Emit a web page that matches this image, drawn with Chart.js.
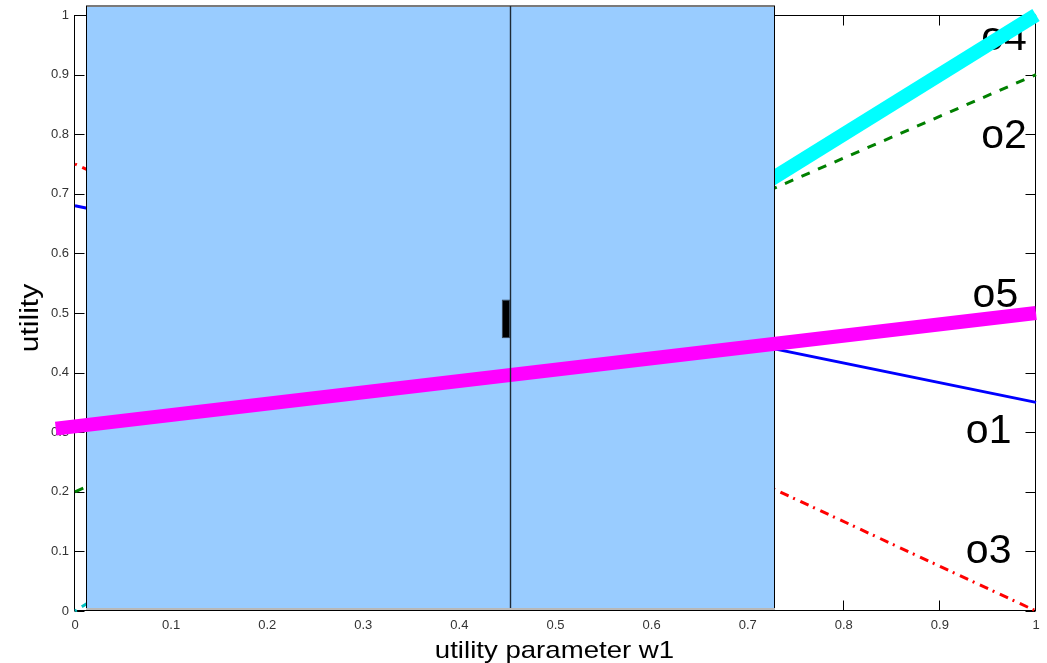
<!DOCTYPE html>
<html><head><meta charset="utf-8">
<script src="https://cdn.jsdelivr.net/npm/chart.js@4/dist/chart.umd.min.js"></script>
<style>html,body{margin:0;padding:0;background:#fff;} canvas{display:block;}</style>
</head><body>
<canvas id="c" width="1047" height="663"></canvas>
<script>
// ---- data ----
const w1Range = [0, 1];
const o1Utility = [0.68, 0.35];
const o2Utility = [0.20, 0.90];
const o3Utility = [0.75, 0.00];
const o4Utility = [0.00, 1.00];
const o4BestW1 = [0.511, 1.0];
const o4BestUtility = [0.511, 1.0];
const o5W1 = [-0.02, 1.0];
const o5Utility = [0.306, 0.50];
const xTickLabels = ['0','0.1','0.2','0.3','0.4','0.5','0.6','0.7','0.8','0.9','1'];
const yTickLabels = ['0','0.1','0.2','0.3','0.4','0.5','0.6','0.7','0.8','0.9','1'];
const optionNames = ['o1','o2','o3','o4','o5'];
const optionLabelW1 = [0.927, 0.943, 0.927, 0.943, 0.934];
const optionLabelUtility = [0.282, 0.777, 0.081, 0.941, 0.510];
const selectionW1 = [0.0115, 0.7275];
const selectionUtility = [0.003, 1.017];
const cursorW1 = 0.4527;
const markerW1 = [0.4443, 0.4527];
const markerUtility = [0.458, 0.522];
const xTitle = 'utility parameter w1';
const yTitle = 'utility';

const pts = (xs, ys) => xs.map((x, i) => ({x: x, y: ys[i]}));
const FONT = '"Liberation Sans", Arial, Helvetica, sans-serif';

const decor = {
  id: 'decor',
  beforeDatasetsDraw(chart) {
    const {ctx, chartArea: a, scales: {x, y}} = chart;
    ctx.save();
    // option labels
    ctx.font = '41px ' + FONT;
    ctx.fillStyle = '#000';
    ctx.textAlign = 'left';
    ctx.textBaseline = 'alphabetic';
    optionNames.forEach((n, i) => {
      ctx.fillText(n, x.getPixelForValue(optionLabelW1[i]), y.getPixelForValue(optionLabelUtility[i]));
    });
    // axes box
    ctx.strokeStyle = '#000';
    ctx.lineWidth = 1;
    const L = Math.round(a.left) - 0.5, R = Math.round(a.right) - 0.5;
    const T = Math.round(a.top) + 0.5, B = Math.round(a.bottom) - 0.5;
    ctx.strokeRect(L, T, R - L, B - T);
    ctx.beginPath();
    const tl = 10;
    x.ticks.forEach(t => {
      const px = Math.round(x.getPixelForValue(t.value)) - 0.5;
      ctx.moveTo(px, B); ctx.lineTo(px, B - tl);
      ctx.moveTo(px, T); ctx.lineTo(px, T + tl);
    });
    y.ticks.forEach(t => {
      const py = Math.round(y.getPixelForValue(t.value)) + 0.5;
      ctx.moveTo(L, py); ctx.lineTo(L + tl, py);
      ctx.moveTo(R, py); ctx.lineTo(R - tl, py);
    });
    ctx.stroke();
    ctx.restore();
  },
  beforeDatasetDraw(chart, args) {
    if (chart.data.datasets[args.index].label !== 'o5') return;
    const {ctx, scales: {x, y}} = chart;
    const x0 = Math.round(x.getPixelForValue(selectionW1[0]));
    const x1 = Math.round(x.getPixelForValue(selectionW1[1]));
    const yTop = Math.round(y.getPixelForValue(selectionUtility[1]));
    const yBot = Math.round(y.getPixelForValue(selectionUtility[0]));
    ctx.save();
    ctx.fillStyle = '#99ccff';
    ctx.fillRect(x0, yTop, x1 - x0, yBot - yTop);
    ctx.fillStyle = '#7a7a7a';
    ctx.fillRect(x0, yTop, x1 - x0 + 1, 2);
    ctx.fillStyle = '#b8b8b8';
    ctx.fillRect(x0, yBot - 1, x1 - x0 + 1, 2);
    ctx.strokeStyle = '#000';
    ctx.lineWidth = 1;
    ctx.beginPath();
    ctx.moveTo(x0 + 0.5, yTop + 1); ctx.lineTo(x0 + 0.5, yBot - 1);
    ctx.moveTo(x1 + 0.5, yTop + 1); ctx.lineTo(x1 + 0.5, yBot - 1);
    ctx.stroke();
    ctx.restore();
  },
  afterDatasetsDraw(chart) {
    const {ctx, scales: {x, y}} = chart;
    ctx.save();
    // cursor line
    const cx = Math.round(x.getPixelForValue(cursorW1)) + 0.5;
    const yTop = Math.round(y.getPixelForValue(selectionUtility[1])) + 1;
    const yBot = Math.round(y.getPixelForValue(selectionUtility[0])) - 1;
    ctx.strokeStyle = '#1e2a36';
    ctx.lineWidth = 1.4;
    ctx.beginPath(); ctx.moveTo(cx, yTop); ctx.lineTo(cx, yBot); ctx.stroke();
    // marker
    const mx0 = x.getPixelForValue(markerW1[0]), mx1 = x.getPixelForValue(markerW1[1]);
    const my0 = y.getPixelForValue(markerUtility[1]), my1 = y.getPixelForValue(markerUtility[0]);
    ctx.fillStyle = '#000';
    ctx.fillRect(mx0, my0, mx1 - mx0, my1 - my0);
    ctx.strokeStyle = '#3a4a5a';
    ctx.lineWidth = 1;
    ctx.strokeRect(mx0 + 0.5, my0 + 0.5, mx1 - mx0 - 1, my1 - my0 - 1);
    // axis titles
    ctx.fillStyle = '#000';
    ctx.textAlign = 'center';
    ctx.textBaseline = 'alphabetic';
    ctx.font = '24px ' + FONT;
    ctx.save();
    ctx.translate((chart.chartArea.left + chart.chartArea.right) / 2 - 1, 658);
    ctx.scale(1.15, 1);
    ctx.fillText(xTitle, 0, 0);
    ctx.restore();
    ctx.save();
    ctx.font = '25px ' + FONT;
    ctx.translate(38, (chart.chartArea.top + chart.chartArea.bottom) / 2 + 5);
    ctx.rotate(-Math.PI / 2);
    ctx.scale(1.2, 1);
    ctx.fillText(yTitle, 0, 0);
    ctx.restore();
    ctx.restore();
  }
};

const lineDefaults = {showLine: true, pointRadius: 0, pointHoverRadius: 0, clip: false, fill: false, tension: 0, borderCapStyle: 'butt'};

new Chart(document.getElementById('c').getContext('2d'), {
  type: 'scatter',
  data: {
    datasets: [
      Object.assign({label: 'o1', data: pts(w1Range, o1Utility), borderColor: '#0000ff', borderWidth: 3, order: 6}, lineDefaults),
      Object.assign({label: 'o2', data: pts(w1Range, o2Utility), borderColor: '#008000', borderWidth: 3, borderDash: [9, 9], order: 5}, lineDefaults),
      Object.assign({label: 'o3', data: pts(w1Range, o3Utility), borderColor: '#ff0000', borderWidth: 3, borderDash: [9, 5, 2, 6], borderDashOffset: 14, order: 4}, lineDefaults),
      Object.assign({label: 'o4', data: pts(w1Range, o4Utility), borderColor: '#00bfbf', borderWidth: 3, borderDash: [9, 5, 2, 6], borderDashOffset: 14, order: 3}, lineDefaults),
      Object.assign({label: 'o4 best', data: pts(o4BestW1, o4BestUtility), borderColor: '#00ffff', borderWidth: 14, order: 2}, lineDefaults),
      Object.assign({label: 'o5', data: pts(o5W1, o5Utility), borderColor: '#ff00ff', borderWidth: 14, order: 1}, lineDefaults)
    ]
  },
  options: {
    responsive: false,
    animation: false,
    devicePixelRatio: 1,
    events: [],
    layout: {padding: {top: 15, right: 11, left: 0, bottom: 0}},
    plugins: {legend: {display: false}, tooltip: {enabled: false}, title: {display: false}},
    scales: {
      x: {
        type: 'linear', min: 0, max: 1,
        grid: {display: false, drawTicks: false},
        border: {display: false},
        ticks: {stepSize: 0.1, autoSkip: false, maxRotation: 0, padding: 7, color: '#333',
          font: {family: FONT, size: 13},
          callback: v => xTickLabels[Math.round(v * 10)]},
        afterFit: s => { s.height = 52; }
      },
      y: {
        type: 'linear', min: 0, max: 1,
        grid: {display: false, drawTicks: false},
        border: {display: false},
        ticks: {stepSize: 0.1, autoSkip: false, padding: 6, color: '#333',
          font: {family: FONT, size: 13},
          callback: v => yTickLabels[Math.round(v * 10)]},
        afterFit: s => { s.width = 75; }
      }
    }
  },
  plugins: [decor]
});
</script>
</body></html>
